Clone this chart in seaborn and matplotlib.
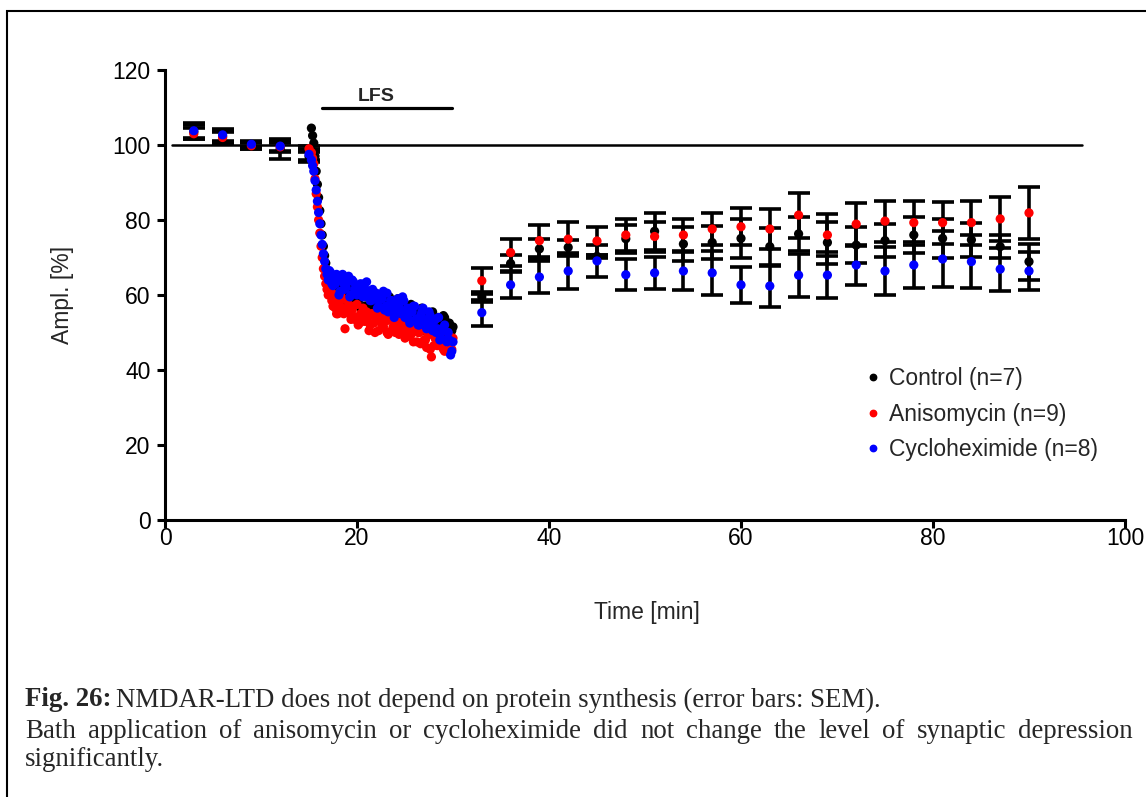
import matplotlib
matplotlib.use("Agg")
import matplotlib.pyplot as plt
from matplotlib.lines import Line2D
from matplotlib.patches import Rectangle
import pandas as pd
import seaborn as sns

groups = ["Control (n=7)", "Anisomycin (n=9)", "Cycloheximide (n=8)"]
colors = ["#000000", "#ff0000", "#0000ff"]

# Baseline, one averaged point every 3 min
base_time = [3, 6, 9, 12, 15]
base_ctrl = [103.5, 102.3, 100.0, 99.0, 97.0]
base_ctrl_sem = [1.8, 1.8, 1.0, 2.6, 1.6]
base_aniso = [103.0, 102.0, 99.8, 99.5, 99.0]
base_aniso_sem = [1.5, 1.6, 0.8, 1.0, 0.8]
base_cyclo = [103.8, 102.7, 100.2, 99.7, 97.5]
base_cyclo_sem = [2.0, 1.5, 0.7, 1.5, 1.5]

# During LFS: sweeps on the quarter minute ...
lfs_time = [15.25, 15.5, 15.75, 16.0, 16.25, 16.5, 16.75, 17.0, 17.25, 17.5,
            17.75, 18.0, 18.25, 18.5, 18.75, 19.0, 19.25, 19.5, 19.75, 20.0,
            20.25, 20.5, 20.75, 21.0, 21.25, 21.5, 21.75, 22.0, 22.25, 22.5,
            22.75, 23.0, 23.25, 23.5, 23.75, 24.0, 24.25, 24.5, 24.75, 25.0,
            25.25, 25.5, 25.75, 26.0, 26.25, 26.5, 26.75, 27.0, 27.25, 27.5,
            27.75, 28.0, 28.25, 28.5, 28.75, 29.0, 29.25, 29.5, 29.75, 30.0]
lfs_ctrl = [104.5, 100.5, 93.0, 86.0, 79.0, 73.0, 68.5, 65.0, 63.0, 62.5,
            63.0, 59.5, 61.5, 63.5, 59.5, 58.0, 61.0, 60.0, 58.5, 61.5,
            59.0, 62.0, 57.0, 59.5, 55.5, 59.0, 60.0, 57.0, 55.5, 59.0,
            57.0, 54.5, 59.5, 56.0, 57.5, 54.5, 59.0, 53.5, 56.0, 54.5,
            57.0, 52.0, 56.0, 54.0, 54.5, 52.0, 56.5, 52.5, 54.5, 50.5,
            55.0, 52.5, 51.0, 54.0, 51.5, 54.5, 49.5, 52.5, 50.0, 51.5]
lfs_aniso = [98.0, 95.0, 87.0, 80.0, 73.0, 67.0, 63.0, 60.0, 61.5, 57.0,
             56.5, 55.0, 58.5, 56.5, 51.0, 58.5, 55.0, 56.0, 53.5, 57.5,
             52.5, 54.5, 53.0, 55.5, 50.5, 55.0, 52.5, 53.5, 50.5, 55.0,
             51.5, 53.0, 49.5, 53.5, 51.5, 50.0, 52.5, 50.5, 53.0, 48.5,
             51.5, 49.0, 50.5, 51.0, 47.5, 50.0, 51.5, 48.0, 46.0, 49.5,
             43.5, 46.5, 50.0, 47.0, 50.5, 45.5, 48.0, 45.0, 47.0, 48.5]
lfs_cyclo = [96.0, 93.0, 88.0, 82.0, 76.0, 71.0, 67.0, 64.0, 66.0, 62.5,
             63.0, 64.0, 61.0, 65.5, 61.5, 63.5, 59.5, 64.0, 61.5, 60.0,
             62.5, 60.5, 63.0, 63.5, 61.0, 58.5, 60.0, 60.5, 57.0, 59.0,
             61.0, 57.0, 55.5, 58.5, 57.5, 55.5, 59.0, 56.0, 59.5, 54.0,
             56.5, 52.5, 55.5, 57.0, 53.5, 52.0, 55.5, 53.5, 51.0, 55.5,
             52.0, 53.0, 50.0, 54.0, 48.5, 50.5, 48.0, 50.0, 44.0, 47.5]

# ... and the sweeps in between
lfs_time_mid = [15.375, 15.625, 15.875, 16.125, 16.375, 16.625, 16.875, 17.125, 17.375, 17.625,
                17.875, 18.125, 18.375, 18.625, 18.875, 19.125, 19.375, 19.625, 19.875, 20.125,
                20.375, 20.625, 20.875, 21.125, 21.375, 21.625, 21.875, 22.125, 22.375, 22.625,
                22.875, 23.125, 23.375, 23.625, 23.875, 24.125, 24.375, 24.625, 24.875, 25.125,
                25.375, 25.625, 25.875, 26.125, 26.375, 26.625, 26.875, 27.125, 27.375, 27.625,
                27.875, 28.125, 28.375, 28.625, 28.875, 29.125, 29.375, 29.625, 29.875]
lfs_ctrl_mid = [102.5, 97.0, 89.5, 82.5, 76.0, 70.5, 66.5, 64.0, 62.0, 64.0,
                60.0, 63.0, 60.5, 58.5, 62.0, 61.0, 58.0, 62.5, 58.5, 60.5,
                56.5, 60.5, 59.5, 57.0, 61.0, 57.5, 56.0, 59.0, 59.5, 56.5,
                54.5, 57.5, 59.5, 55.0, 56.5, 57.5, 54.0, 57.5, 55.0, 52.5,
                56.0, 57.5, 53.5, 55.0, 52.5, 56.0, 50.5, 54.5, 54.0, 52.5,
                55.5, 50.5, 54.0, 51.0, 52.0, 54.0, 50.0, 52.5, 50.5]
lfs_aniso_mid = [96.5, 91.0, 83.5, 76.5, 70.0, 65.0, 61.5, 62.5, 58.5, 60.0,
                 55.0, 57.5, 59.5, 55.0, 56.0, 57.0, 53.5, 57.0, 54.0, 52.0,
                 55.0, 56.5, 53.0, 54.0, 52.0, 55.0, 50.0, 54.0, 53.0, 52.0,
                 54.5, 50.0, 53.5, 50.5, 51.5, 53.0, 49.5, 52.0, 50.0, 49.0,
                 52.0, 49.5, 47.5, 51.0, 50.0, 47.0, 51.5, 48.0, 49.5, 45.5,
                 49.5, 48.5, 46.5, 50.0, 47.0, 45.0, 48.0, 49.0, 45.5]
lfs_cyclo_mid = [94.5, 90.5, 85.0, 79.0, 73.5, 69.0, 65.5, 66.5, 63.0, 64.5,
                 65.5, 60.0, 64.0, 63.0, 62.0, 65.0, 60.0, 63.5, 60.5, 61.5,
                 63.0, 59.5, 61.5, 59.5, 58.5, 61.5, 59.0, 56.5, 60.0, 59.0,
                 56.0, 60.5, 56.5, 58.5, 54.0, 58.5, 57.0, 55.0, 58.5, 55.5,
                 53.5, 56.5, 57.0, 53.5, 52.0, 54.5, 56.5, 52.0, 53.0, 54.5,
                 50.5, 53.5, 51.0, 48.0, 51.0, 52.0, 47.5, 48.0, 45.0]

# After LFS, one averaged point every 3 min
post_time = [33, 36, 39, 42, 45, 48, 51, 54, 57, 60,
             63, 66, 69, 72, 75, 78, 81, 84, 87, 90]
post_ctrl = [59.5, 68.4, 72.3, 72.7, 70.3, 75.0, 77.0, 73.6, 74.0, 75.1,
             72.9, 76.3, 74.0, 73.3, 74.5, 76.0, 75.1, 74.7, 72.9, 68.9]
post_ctrl_sem = [1.4, 2.2, 2.6, 2.0, 0.5, 3.8, 4.9, 4.6, 4.3, 5.3,
                 5.1, 4.6, 5.6, 4.8, 4.4, 4.9, 5.1, 4.6, 3.1, 4.8]
post_aniso = [63.8, 71.3, 74.5, 74.9, 74.4, 76.0, 75.6, 76.0, 77.6, 78.2,
              77.6, 81.3, 76.0, 78.9, 79.7, 79.3, 79.3, 79.3, 80.3, 81.9]
post_aniso_sem = [3.5, 3.6, 4.3, 4.5, 3.8, 4.2, 4.0, 4.2, 4.3, 4.9,
                  5.3, 6.0, 5.5, 5.7, 5.5, 5.9, 5.6, 5.9, 5.9, 7.0]
post_cyclo = [55.3, 62.7, 64.8, 66.4, 69.1, 65.4, 65.9, 66.4, 65.9, 62.7,
              62.4, 65.3, 65.3, 68.0, 66.4, 68.0, 69.6, 68.9, 66.9, 66.4]
post_cyclo_sem = [3.5, 3.6, 4.3, 4.7, 4.2, 4.1, 4.2, 5.1, 5.9, 4.8,
                  5.5, 5.7, 6.2, 5.3, 6.4, 6.2, 7.4, 7.0, 5.7, 5.0]

x_ticks = [0, 20, 40, 60, 80, 100]
y_ticks = [0, 20, 40, 60, 80, 100, 120]

series = [
    (groups[0], base_ctrl, base_ctrl_sem, lfs_ctrl, lfs_ctrl_mid,
     post_ctrl, post_ctrl_sem),
    (groups[1], base_aniso, base_aniso_sem, lfs_aniso, lfs_aniso_mid,
     post_aniso, post_aniso_sem),
    (groups[2], base_cyclo, base_cyclo_sem, lfs_cyclo, lfs_cyclo_mid,
     post_cyclo, post_cyclo_sem),
]

rows = []
for name, b, bs, l, lm, p, ps in series:
    for tt, vv in ((base_time, b), (lfs_time, l), (lfs_time_mid, lm),
                   (post_time, p)):
        for t, v in zip(tt, vv):
            rows.append((name, t, v))
df = pd.DataFrame(rows, columns=["group", "time", "ampl"])

sns.set_style("ticks")
plt.rcParams["font.family"] = ["Liberation Sans", "DejaVu Sans"]

W, H = 1146, 797
fig = plt.figure(figsize=(W / 100, H / 100), dpi=100)
ax = fig.add_axes([165 / W, 1 - 520 / H, 960 / W, 450 / H])

# error bars (SEM), all drawn in black
for name, b, bs, l, lm, p, ps in series:
    ax.errorbar(base_time + post_time, b + p, yerr=bs + ps, fmt="none",
                ecolor="black", elinewidth=2.6, capsize=8, capthick=2.6,
                zorder=2)

sns.scatterplot(data=df, x="time", y="ampl", hue="group", hue_order=groups,
                palette=colors, s=44, linewidth=0, legend=False, ax=ax,
                zorder=3)

# 100 % reference line and LFS bar
ax.plot([0.7, 95.5], [100, 100], color="black", lw=1.8, zorder=1)
ax.plot([16.35, 29.9], [110, 110], color="black", lw=2.3, zorder=1)
ax.text(22.0, 113.0, "LFS", ha="center", va="center", fontsize=14,
        fontweight="bold")

ax.set_xlim(0, 100)
ax.set_ylim(0, 120)
ax.set_xticks(x_ticks)
ax.set_yticks(y_ticks)
ax.set_xticklabels([str(v) for v in x_ticks])
ax.set_yticklabels([str(v) for v in y_ticks])
ax.tick_params(direction="out", length=5.5, width=2.2, labelsize=16.5,
               colors="black")
ax.tick_params(axis="x", pad=-0.5)
ax.tick_params(axis="y", pad=5)
for side in ("top", "right"):
    ax.spines[side].set_visible(False)
for side in ("left", "bottom"):
    ax.spines[side].set_linewidth(2.2)
    ax.spines[side].set_color("black")

ax.set_xlabel("Time [min]", fontsize=16.5)
ax.set_ylabel("Ampl. [%]", fontsize=16.5)
ax.xaxis.set_label_coords((647 - 165) / 960, (520 - 613) / 450)
ax.xaxis.label.set_va("center")
ax.yaxis.set_label_coords((62 - 165) / 960, 0.5)
ax.yaxis.label.set_va("center")

handles = [Line2D([], [], ls="none", marker="o", ms=4.6, color=c) for c in colors]
ax.legend(handles, groups, loc="upper left",
          bbox_to_anchor=((864 - 165) / 960, (520 - 367) / 450),
          frameon=False, fontsize=16.5, handlelength=0.8, handletextpad=0.3,
          labelspacing=0.55, borderpad=0, borderaxespad=0)

# page frame
fig.patches.append(Rectangle((7 / W, -0.05), 1.2, (H - 11) / H + 0.05,
                             transform=fig.transFigure, fill=False,
                             lw=1.5, edgecolor="black"))

# caption
serif = ["Liberation Serif", "DejaVu Serif"]
cap_size = 19.4
renderer = fig.canvas.get_renderer()
x0 = 25 / W
y1, y2, y3 = 1 - 700 / H, 1 - 731 / H, 1 - 759 / H
t_bold = fig.text(x0, y1, "Fig. 26:", family=serif, fontsize=cap_size,
                  fontweight="bold", va="center")
bw = t_bold.get_window_extent(renderer).width
fig.text(x0 + (bw + 5) / W, y1,
         "NMDAR-LTD does not depend on protein synthesis (error bars: SEM).",
         family=serif, fontsize=cap_size, va="center")

words = ("Bath application of anisomycin or cycloheximide did not change "
         "the level of synaptic depression").split()
texts = [fig.text(0, y2, w, family=serif, fontsize=cap_size, va="center")
         for w in words]
widths = [t.get_window_extent(renderer).width for t in texts]
right_px = 1133
gap = (right_px - 25 - sum(widths)) / (len(words) - 1)
xpos = 25.0
for t, w in zip(texts, widths):
    t.set_x(xpos / W)
    xpos += w + gap
fig.text(x0, y3, "significantly.", family=serif, fontsize=cap_size,
         va="center")

fig.savefig("out.png", dpi=100)
